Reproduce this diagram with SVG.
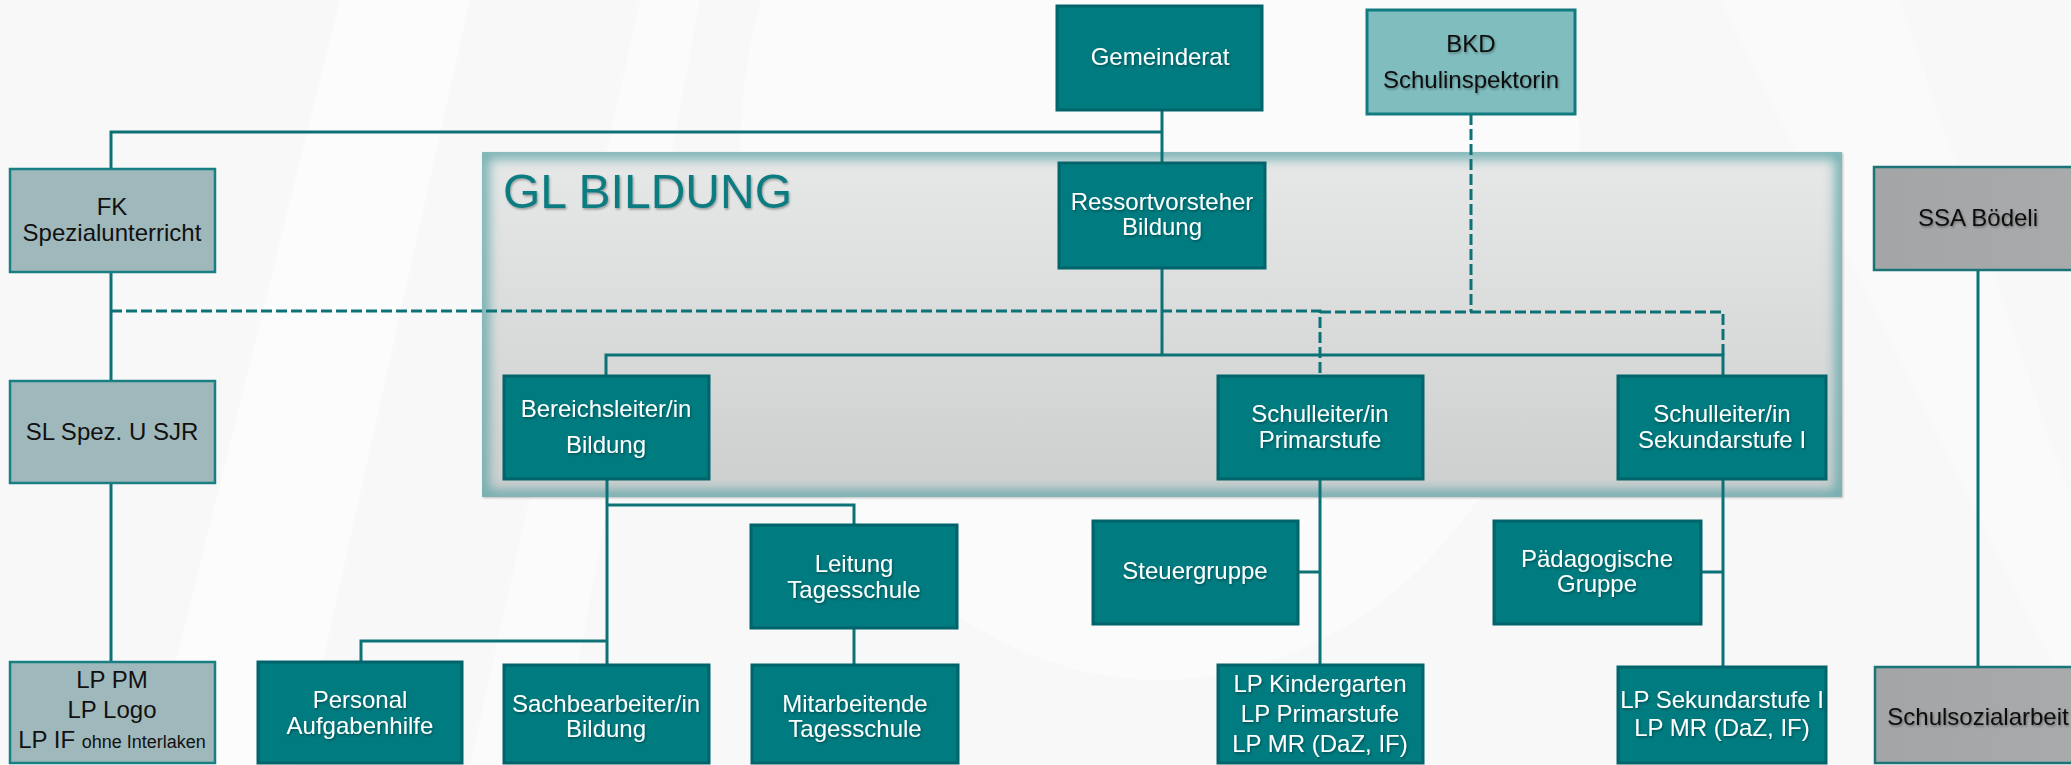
<svg xmlns="http://www.w3.org/2000/svg" width="2071" height="765" viewBox="0 0 2071 765">
<defs>
<linearGradient id="glFill" x1="0" y1="0" x2="0" y2="1">
<stop offset="0" stop-color="#e7e8e8"/>
<stop offset="1" stop-color="#cdcfce"/>
</linearGradient>
<linearGradient id="ssaFill" x1="0" y1="0" x2="1" y2="0">
<stop offset="0" stop-color="#a4a5a7"/>
<stop offset="1" stop-color="#a9aaac"/>
</linearGradient>
<filter id="inner" x="-5%" y="-5%" width="110%" height="110%">
<feGaussianBlur stdDeviation="6"/>
</filter>
<filter id="ts" x="-10%" y="-30%" width="120%" height="160%">
<feDropShadow dx="1" dy="1.5" stdDeviation="0.8" flood-color="#000" flood-opacity="0.35"/>
</filter>
<filter id="boxsh" x="-10%" y="-10%" width="120%" height="120%">
<feDropShadow dx="1" dy="1" stdDeviation="1.2" flood-color="#000" flood-opacity="0.25"/>
</filter>
<clipPath id="glClip"><rect x="482" y="152" width="1360" height="345"/></clipPath>
</defs>
<style>
.bg{fill:#f8f8f8}
.teal{fill:#007b7f;stroke:#01646a;stroke-width:3}
.grey{fill:#9fb8bb;stroke:#1a7f83;stroke-width:2.5}
.light{fill:#80bdbf;stroke:#117c80;stroke-width:3}
.ssa{fill:url(#ssaFill);stroke:#1a7478;stroke-width:2.5}
.w{fill:#ffffff;font-family:"Liberation Sans",Arial,sans-serif;font-size:24px;text-anchor:middle;filter:url(#ts)}
.b{fill:#111111;font-family:"Liberation Sans",Arial,sans-serif;font-size:24px;text-anchor:middle}
.bs{filter:url(#ts)}
.ln{fill:none;stroke:#0c7276;stroke-width:3}
.dl{fill:none;stroke:#0c7276;stroke-width:3;stroke-dasharray:11 4}
</style>
<rect class="bg" x="0" y="0" width="2071" height="765"/>
<polygon points="340,0 470,0 300,765 150,765" fill="#ffffff" opacity="0.5"/>
<polygon points="640,0 700,0 560,765 470,765" fill="#ffffff" opacity="0.4"/>
<polygon points="1720,0 1900,0 2071,500 2071,700" fill="#ffffff" opacity="0.35"/>
<ellipse cx="1160" cy="160" rx="420" ry="520" fill="#ffffff" opacity="0.45"/>

<g id="gl-bildung">
<rect x="482" y="152" width="1360" height="345" fill="url(#glFill)" filter="url(#boxsh)"/>
<g clip-path="url(#glClip)">
<rect x="482" y="152" width="1360" height="345" fill="none" stroke="#5fa6a9" stroke-width="14" filter="url(#inner)" opacity="0.85"/>
</g>
<text x="503" y="208" fill="#0d7c80" font-family="Liberation Sans,Arial,sans-serif" font-size="48" filter="url(#ts)">GL BILDUNG</text>
</g>

<g id="connectors">
<path class="ln" d="M111 169 V132 H1162"/>
<path class="ln" d="M1162 110 V163"/>
<path class="ln" d="M111 272 V381"/>
<path class="ln" d="M111 483 V662"/>
<path class="ln" d="M1162 268 V355"/>
<path class="ln" d="M606 376 V355 H1723 V376"/>
<path class="ln" d="M607 479 V665"/>
<path class="ln" d="M607 505 H854 V525"/>
<path class="ln" d="M607 641 H361 V662"/>
<path class="ln" d="M854 628 V665"/>
<path class="ln" d="M1320 479 V665"/>
<path class="ln" d="M1298 572 H1320"/>
<path class="ln" d="M1723 479 V667"/>
<path class="ln" d="M1701 572 H1723"/>
<path class="ln" d="M1978 270 V667"/>
<path class="dl" d="M111 311 H1320 V376"/>
<path class="dl" d="M1471 114 V312"/>
<path class="dl" d="M1320 312 H1723 V355"/>
</g>

<g id="gemeinderat">
<rect class="teal" x="1057" y="6" width="205" height="104"/>
<text class="w" x="1160" y="65">Gemeinderat</text>
</g>
<g id="bkd">
<rect class="light" x="1367" y="10" width="208" height="104"/>
<text class="b bs" x="1471" y="52">BKD</text>
<text class="b bs" x="1471" y="88">Schulinspektorin</text>
</g>
<g id="fk">
<rect class="grey" x="10" y="169" width="205" height="103"/>
<text class="b" x="112" y="215">FK</text>
<text class="b" x="112" y="241">Spezialunterricht</text>
</g>
<g id="ressortvorsteher">
<rect class="teal" x="1059" y="163" width="206" height="105"/>
<text class="w" x="1162" y="210">Ressortvorsteher</text>
<text class="w" x="1162" y="235">Bildung</text>
</g>
<g id="ssa-boedeli">
<rect class="ssa" x="1874" y="167" width="206" height="103"/>
<text class="b bs" x="1978" y="226">SSA Bödeli</text>
</g>
<g id="sl-spez">
<rect class="grey" x="10" y="381" width="205" height="102"/>
<text class="b" x="112" y="440">SL Spez. U SJR</text>
</g>
<g id="bereichsleiter">
<rect class="teal" x="504" y="376" width="205" height="103"/>
<text class="w" x="606" y="417">Bereichsleiter/in</text>
<text class="w" x="606" y="453">Bildung</text>
</g>
<g id="schulleiter-primar">
<rect class="teal" x="1218" y="376" width="205" height="103"/>
<text class="w" x="1320" y="422">Schulleiter/in</text>
<text class="w" x="1320" y="448">Primarstufe</text>
</g>
<g id="schulleiter-sek">
<rect class="teal" x="1618" y="376" width="208" height="103"/>
<text class="w" x="1722" y="422">Schulleiter/in</text>
<text class="w" x="1722" y="448">Sekundarstufe I</text>
</g>
<g id="leitung-tagesschule">
<rect class="teal" x="751" y="525" width="206" height="103"/>
<text class="w" x="854" y="572">Leitung</text>
<text class="w" x="854" y="598">Tagesschule</text>
</g>
<g id="steuergruppe">
<rect class="teal" x="1093" y="521" width="205" height="103"/>
<text class="w" x="1195" y="579">Steuergruppe</text>
</g>
<g id="paedagogische-gruppe">
<rect class="teal" x="1494" y="521" width="207" height="103"/>
<text class="w" x="1597" y="567">Pädagogische</text>
<text class="w" x="1597" y="592">Gruppe</text>
</g>
<g id="lp-pm">
<rect class="grey" x="10" y="662" width="205" height="101"/>
<text class="b" x="112" y="688">LP PM</text>
<text class="b" x="112" y="718">LP Logo</text>
<text class="b" x="112" y="748">LP IF <tspan font-size="18">ohne Interlaken</tspan></text>
</g>
<g id="personal-aufgabenhilfe">
<rect class="teal" x="258" y="662" width="204" height="101"/>
<text class="w" x="360" y="708">Personal</text>
<text class="w" x="360" y="734">Aufgabenhilfe</text>
</g>
<g id="sachbearbeiter">
<rect class="teal" x="504" y="665" width="205" height="98"/>
<text class="w" x="606" y="712">Sachbearbeiter/in</text>
<text class="w" x="606" y="737">Bildung</text>
</g>
<g id="mitarbeitende-tagesschule">
<rect class="teal" x="752" y="665" width="206" height="98"/>
<text class="w" x="855" y="712">Mitarbeitende</text>
<text class="w" x="855" y="737">Tagesschule</text>
</g>
<g id="lp-kindergarten">
<rect class="teal" x="1218" y="665" width="205" height="98"/>
<text class="w" x="1320" y="692">LP Kindergarten</text>
<text class="w" x="1320" y="722">LP Primarstufe</text>
<text class="w" x="1320" y="752">LP MR (DaZ, IF)</text>
</g>
<g id="lp-sekundarstufe">
<rect class="teal" x="1618" y="667" width="208" height="96"/>
<text class="w" x="1722" y="708" font-size="21">LP Sekundarstufe I</text>
<text class="w" x="1722" y="736">LP MR (DaZ, IF)</text>
</g>
<g id="schulsozialarbeit">
<rect class="ssa" x="1875" y="667" width="205" height="96"/>
<text class="b bs" x="1978" y="725">Schulsozialarbeit</text>
</g>
</svg>
